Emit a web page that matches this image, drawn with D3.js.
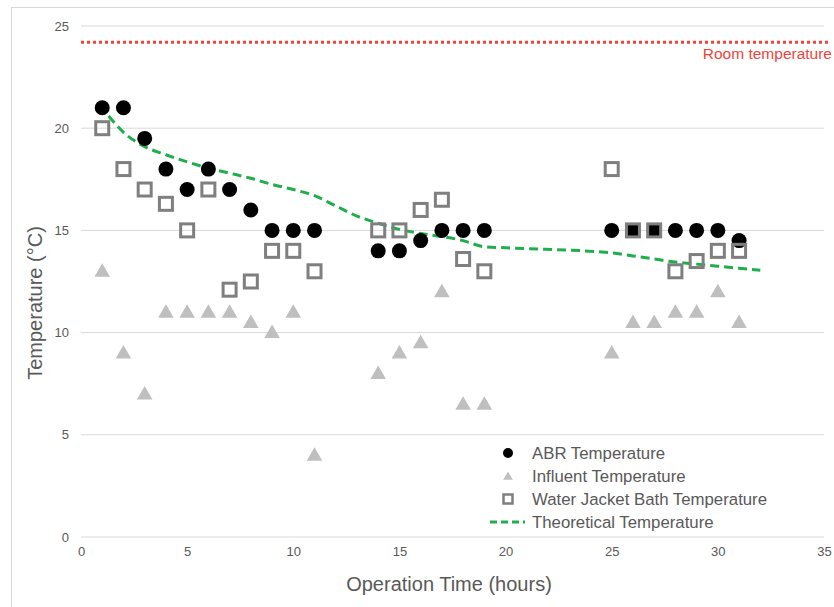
<!DOCTYPE html>
<head>
  <meta charset="utf-8">
  <script src="https://d3js.org/d3.v7.min.js"></script>
  <style>
    body {
      margin: 0; background: #fff;
      font-family: "Liberation Sans", Arial, sans-serif;
    }
  </style>
</head>
<body>
  <script>
    // operation time (hours) for the measurements
    var hours = [1, 2, 3, 4, 5, 6, 7, 8, 9, 10, 11, 14, 15, 16, 17, 18, 19, 25, 26, 27, 28, 29, 30, 31];
    var abrTemp = [21, 21, 19.5, 18, 17, 18, 17, 16, 15, 15, 15, 14, 14, 14.5, 15, 15, 15, 15, 15, 15, 15, 15, 15, 14.5];
    var influentTemp = [13, 9, 7, 11, 11, 11, 11, 10.5, 10, 11, 4, 8, 9, 9.5, 12, 6.5, 6.5, 9, 10.5, 10.5, 11, 11, 12, 10.5];
    var jacketTemp = [20, 18, 17, 16.3, 15, 17, 12.1, 12.5, 14, 14, 13, 15, 15, 16, 16.5, 13.6, 13, 18, 15, 15, 13, 13.5, 14, 14];

    var theoHours = [1.3, 2, 3, 4, 5, 6, 7, 8, 9, 10, 11, 12, 13, 14, 15, 16, 17, 18, 19, 20, 25, 26, 27, 28, 29, 30, 31, 32];
    var theoTemp = [20.6, 19.8, 19.1, 18.7, 18.35, 18.05, 17.8, 17.55, 17.25, 17.0, 16.7, 16.2, 15.7, 15.35, 15.05, 14.85, 14.7, 14.5, 14.2, 14.15, 13.9, 13.75, 13.6, 13.45, 13.35, 13.25, 13.15, 13.05];

    var roomTemp = 24.2;
    var xTicks = [0, 5, 10, 15, 20, 25, 30, 35];
    var yTicks = [0, 5, 10, 15, 20, 25];

    var W = 834, H = 607;

    var svg = d3.select("body").append("svg")
      .attr("width", W)
      .attr("height", H);

    // chart frame
    svg.append("rect")
      .attr("x", 11.5).attr("y", 7.5)
      .attr("width", W).attr("height", H)
      .attr("fill", "none")
      .attr("stroke", "#d9d9d9");

    var x = d3.scaleLinear().domain([0, 35]).range([81, 824]);
    var y = d3.scaleLinear().domain([0, 25]).range([537, 26]);

    // gridlines
    svg.append("g").selectAll("line")
      .data(yTicks).enter().append("line")
      .attr("x1", x(0)).attr("x2", x(35))
      .attr("y1", function(d) { return y(d); })
      .attr("y2", function(d) { return y(d); })
      .attr("stroke", "#d9d9d9").attr("stroke-width", 1);

    var yaxis = d3.axisLeft(y).tickValues(yTicks).tickSize(0).tickPadding(12);
    var xaxis = d3.axisBottom(x).tickValues(xTicks).tickSize(0).tickPadding(10);

    var gy = svg.append("g").attr("transform", "translate(" + x(0) + ",0)").call(yaxis);
    var gx = svg.append("g").attr("transform", "translate(0," + y(0) + ")").call(xaxis);
    [gx, gy].forEach(function(g) {
      g.select(".domain").remove();
      g.selectAll("text")
        .style("font-size", "13px")
        .style("font-family", "Liberation Sans, Arial, sans-serif")
        .attr("fill", "#595959");
    });

    // axis titles
    svg.append("text")
      .text("Operation Time (hours)")
      .attr("x", 449).attr("y", 591)
      .attr("text-anchor", "middle")
      .style("font-size", "20px")
      .attr("fill", "#595959");

    svg.append("text")
      .text("Temperature (°C)")
      .attr("text-anchor", "middle")
      .attr("transform", "translate(42,303) rotate(-90)")
      .style("font-size", "20px")
      .attr("fill", "#595959");

    // room temperature reference
    svg.append("line")
      .attr("x1", x(0)).attr("x2", 829)
      .attr("y1", y(roomTemp)).attr("y2", y(roomTemp))
      .attr("stroke", "#f0443a")
      .attr("stroke-width", 3)
      .attr("stroke-dasharray", "3 3");

    svg.append("text")
      .text("Room temperature")
      .attr("x", 832).attr("y", y(roomTemp) + 17)
      .attr("text-anchor", "end")
      .style("font-size", "15.5px")
      .attr("fill", "#f0443a");

    // theoretical curve
    var theo = theoHours.map(function(h, i) { return [h, theoTemp[i]]; });
    var line = d3.line()
      .x(function(d) { return x(d[0]); })
      .y(function(d) { return y(d[1]); })
      .curve(d3.curveMonotoneX);

    svg.append("path")
      .datum(theo)
      .attr("d", line)
      .attr("fill", "none")
      .attr("stroke", "#1fae4b")
      .attr("stroke-width", 3)
      .attr("stroke-dasharray", "9 5");

    var pts = hours.map(function(h, i) {
      return { x: h, abr: abrTemp[i], inf: influentTemp[i], jac: jacketTemp[i] };
    });

    // influent triangles
    var tri = d3.symbol().type(d3.symbolTriangle).size(105);
    svg.append("g").selectAll("path")
      .data(pts).enter().append("path")
      .attr("d", tri)
      .attr("transform", function(d) { return "translate(" + x(d.x) + "," + (y(d.inf) + 1) + ")"; })
      .attr("fill", "#bfbfbf");

    // ABR circles
    svg.append("g").selectAll("circle")
      .data(pts).enter().append("circle")
      .attr("cx", function(d) { return x(d.x); })
      .attr("cy", function(d) { return y(d.abr); })
      .attr("r", 7.5)
      .attr("fill", "#000");

    // water jacket squares
    svg.append("g").selectAll("rect")
      .data(pts).enter().append("rect")
      .attr("x", function(d) { return x(d.x) - 6.5; })
      .attr("y", function(d) { return y(d.jac) - 6.5; })
      .attr("width", 13).attr("height", 13)
      .attr("fill", "none")
      .attr("stroke", "#7f7f7f")
      .attr("stroke-width", 3);

    // legend
    var legend = [
      { name: "ABR Temperature", kind: "circle" },
      { name: "Influent Temperature", kind: "tri" },
      { name: "Water Jacket Bath Temperature", kind: "square" },
      { name: "Theoretical Temperature", kind: "line" }
    ];
    var lg = svg.append("g").attr("transform", "translate(508,453)");
    var rows = lg.selectAll("g").data(legend).enter().append("g")
      .attr("transform", function(d, i) { return "translate(0," + (i * 23) + ")"; });

    rows.each(function(d) {
      var g = d3.select(this);
      if (d.kind === "circle") {
        g.append("circle").attr("r", 5).attr("fill", "#000");
      } else if (d.kind === "tri") {
        g.append("path").attr("d", d3.symbol().type(d3.symbolTriangle).size(40)).attr("fill", "#bfbfbf")
          .attr("transform", "translate(0,1)");
      } else if (d.kind === "square") {
        g.append("rect").attr("x", -4.5).attr("y", -4.5).attr("width", 9).attr("height", 9)
          .attr("fill", "none").attr("stroke", "#7f7f7f").attr("stroke-width", 2.5);
      } else {
        g.append("line").attr("x1", -18).attr("x2", 17).attr("y1", 0).attr("y2", 0)
          .attr("stroke", "#1fae4b").attr("stroke-width", 3).attr("stroke-dasharray", "7 4");
      }
      g.append("text").text(d.name)
        .attr("x", 24).attr("dy", "0.35em")
        .style("font-size", "16.8px")
        .attr("fill", "#595959");
    });
  </script>
</body>
